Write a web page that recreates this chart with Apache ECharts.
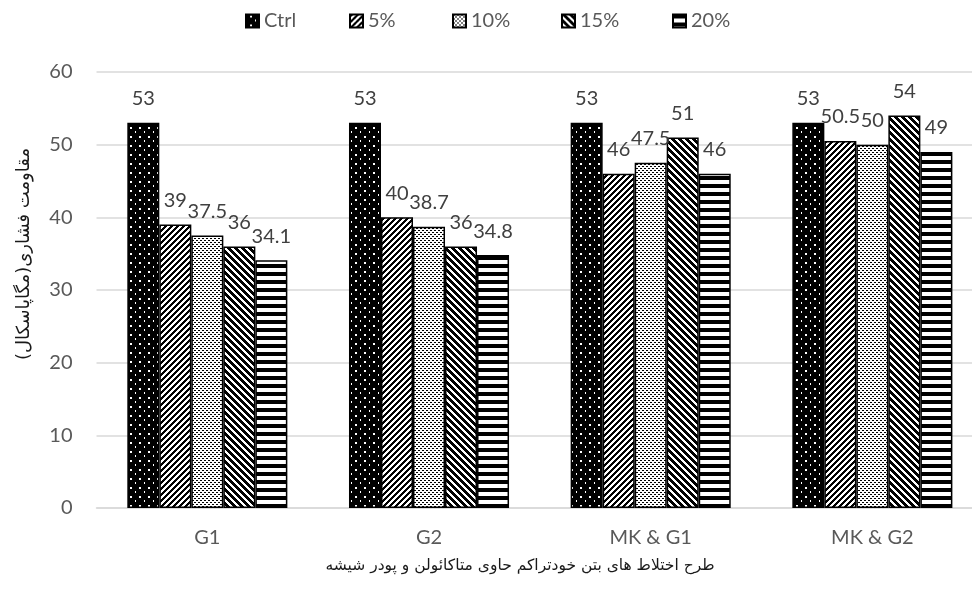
<!DOCTYPE html>
<html>
<head>
<meta charset="utf-8">
<script src="https://cdn.jsdelivr.net/npm/echarts@6/dist/echarts.min.js"></script>
<style>html,body{margin:0;padding:0;background:#fff;}#c{width:972px;height:590px;}</style>
</head>
<body>
<div id="c"></div>
<script>
var categories = ['G1', 'G2', 'MK & G1', 'MK & G2'];
var seriesNames = ['Ctrl', '5%', '10%', '15%', '20%'];
var ctrlValues = [53, 53, 53, 53];
var p5Values = [39, 40, 46, 50.5];
var p10Values = [37.5, 38.7, 47.5, 50];
var p15Values = [36, 36, 51, 54];
var p20Values = [34.1, 34.8, 46, 49];
var yTicks = [0, 10, 20, 30, 40, 50, 60];

function makeTile(w, h, fn) {
  var c = document.createElement('canvas');
  c.width = w; c.height = h;
  var ctx = c.getContext('2d');
  var img = ctx.createImageData(w, h);
  for (var y = 0; y < h; y++) {
    for (var x = 0; x < w; x++) {
      var black = fn(x, y);
      var i = (y * w + x) * 4;
      var v = black ? 0 : 255;
      img.data[i] = v; img.data[i + 1] = v; img.data[i + 2] = v; img.data[i + 3] = 255;
    }
  }
  ctx.putImageData(img, 0, 0);
  return { image: c, repeat: 'repeat' };
}
var patterns = [
  makeTile(9, 9, function (x, y) {
    if ((x === 4 || x === 5) && (y === 1 || y === 2)) return false;
    if (x === 0 && (y === 5 || y === 6)) return false;
    return true;
  }),
  makeTile(6, 6, function (x, y) { return ((x + y) % 6) < 3; }),
  makeTile(4, 4, function (x, y) { return (x === 0 && y === 0) || (x === 2 && y === 2) || (x === 1 && y === 0) || (x === 3 && y === 2); }),
  makeTile(7, 7, function (x, y) { return (((x - y) % 7) + 7) % 7 < 4; }),
  makeTile(1, 8, function (x, y) { return y < 4; })
];
var allValues = [ctrlValues, p5Values, p10Values, p15Values, p20Values];

var chart = echarts.init(document.getElementById('c'), null, { renderer: 'canvas' });
var series = seriesNames.map(function (name, i) {
  return {
    name: name,
    type: 'bar',
    data: allValues[i],
    barGap: '0%',
    barCategoryGap: '27.8%',
    itemStyle: { color: patterns[i], borderColor: '#000', borderWidth: 1.5 },
    label: {
      show: true,
      position: 'top',
      distance: 14,
      color: '#404040',
      fontFamily: 'Lato',
      fontSize: 20
    }
  };
});
var legendSlots = [240, 344, 447, 556, 667];
var legends = seriesNames.map(function (name, i) {
  return {
    data: [name],
    left: legendSlots[i],
    top: 6,
    itemWidth: 13,
    itemHeight: 13,
    icon: 'rect',
    textStyle: { color: '#595959', fontFamily: 'Lato', fontSize: 20 }
  };
});
chart.setOption({
  animation: false,
  backgroundColor: '#fff',
  legend: legends,
  grid: { left: 96.5, top: 72, width: 886.7, height: 436, containLabel: false, outerBoundsMode: 'none' },
  xAxis: {
    type: 'category',
    data: categories,
    axisLine: { lineStyle: { color: '#d9d9d9', width: 1.5 } },
    axisTick: { show: false },
    axisLabel: { color: '#595959', fontFamily: 'Lato', fontSize: 20, margin: 20 }
  },
  yAxis: {
    type: 'value',
    min: yTicks[0],
    max: yTicks[yTicks.length - 1],
    interval: 10,
    axisLine: { show: false },
    axisTick: { show: false },
    splitLine: { lineStyle: { color: '#d9d9d9', width: 1.5 } },
    axisLabel: { color: '#595959', fontFamily: 'Lato', fontSize: 20, margin: 24 }
  },
  graphic: [
    {
      type: 'text', x: 520, y: 566,
      style: {
        text: 'طرح اختلاط های بتن خودتراکم حاوی متاکائولن و پودر شیشه',
        font: '15.5px "DejaVu Sans"', fill: '#1a1a1a', textAlign: 'center', textVerticalAlign: 'middle'
      }
    },
    {
      type: 'text', x: 24, y: 254, rotation: Math.PI / 2,
      style: {
        text: 'مقاومت فشاری(مگاپاسکال)',
        font: '18px "DejaVu Sans"', fill: '#1a1a1a', textAlign: 'center', textVerticalAlign: 'middle'
      }
    }
  ],
  series: series
});
</script>
</body>
</html>
